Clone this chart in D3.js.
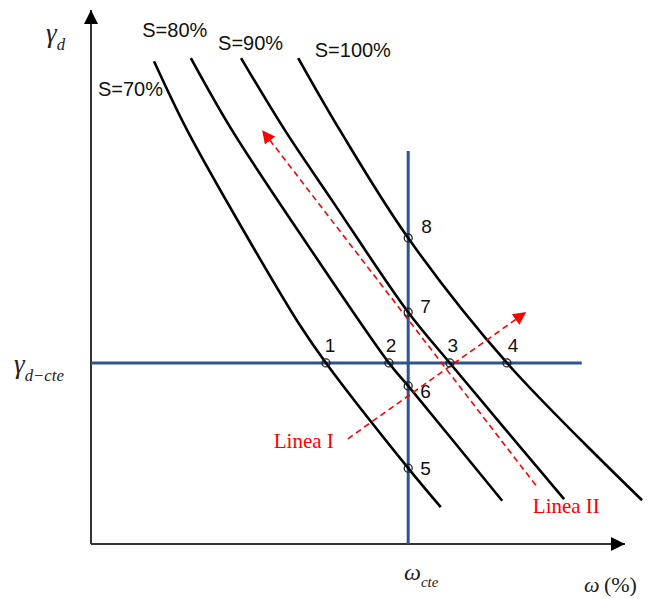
<!DOCTYPE html>
<html>
<head>
<meta charset="utf-8">
<script src="https://cdn.jsdelivr.net/npm/d3@7"></script>
<style>
  body { margin: 0; background: #fff; }
  svg { display: block; }
  .serif { font-family: "Liberation Serif", "DejaVu Serif", serif; }
  .sans { font-family: "Liberation Sans", Arial, sans-serif; }
</style>
</head>
<body>
<div id="chart"></div>
<script>
// curves of equal saturation, [omega, gamma_d] in chart units
const s70 = [[11.8, 90.4], [18.0, 77.5], [28.5, 58.8], [39.1, 41.0], [44.0, 33.9], [59.4, 14.2], [65.5, 6.9]];
const s80 = [[18.7, 91.0], [26.4, 77.5], [39.1, 58.2], [55.8, 33.9], [59.4, 29.6], [77.0, 8.1]];
const s90 = [[28.1, 91.0], [36.3, 77.5], [45.1, 64.4], [59.4, 43.4], [67.2, 33.9], [88.6, 8.4]];
const s100 = [[38.8, 91.0], [46.6, 77.5], [59.4, 57.3], [77.9, 33.9], [103.2, 8.2]];
const curveLabels = ["S=70%", "S=80%", "S=90%", "S=100%"];

// constant values
const omegaCte = 59.4;
const gammaCte = 33.9;

// numbered points: 1-4 on gamma_d = cte, 5-8 on omega = cte
const hPointNames = ["1", "2", "3", "4"];
const hPointOmega = [44.0, 55.8, 67.2, 77.9];
const vPointNames = ["5", "6", "7", "8"];
const vPointGamma = [14.2, 29.6, 43.4, 57.3];

// dashed paths (start -> arrow tip)
const lineaI = [[48.1, 19.7], [81.3, 43.3]];
const lineaII = [[83.3, 11.0], [32.2, 77.3]];

const width = 651, height = 599;
const x0 = 91, y0 = 544;

const x = d3.scaleLinear().domain([0, 100]).range([x0, x0 + 534]);
const y = d3.scaleLinear().domain([0, 100]).range([y0, y0 - 534]);

const svg = d3.select("#chart").append("svg")
    .attr("width", width)
    .attr("height", height);

const defs = svg.append("defs");
defs.append("marker")
    .attr("id", "redHead")
    .attr("viewBox", "0 0 10 10")
    .attr("refX", 9).attr("refY", 5)
    .attr("markerWidth", 13).attr("markerHeight", 13)
    .attr("markerUnits", "userSpaceOnUse")
    .attr("orient", "auto")
  .append("path")
    .attr("d", "M0,0 L10,5 L0,10 Z")
    .attr("fill", "#ff0000");
defs.append("marker")
    .attr("id", "axisHead")
    .attr("viewBox", "0 0 10 10")
    .attr("refX", 10).attr("refY", 5)
    .attr("markerWidth", 14).attr("markerHeight", 14)
    .attr("markerUnits", "userSpaceOnUse")
    .attr("orient", "auto")
  .append("path")
    .attr("d", "M0,0 L10,5 L0,10 Z")
    .attr("fill", "#000");

// axes
svg.append("line")
    .attr("x1", x(0)).attr("y1", y(0))
    .attr("x2", x(0)).attr("y2", y0 - 534)
    .attr("stroke", "#333").attr("stroke-width", 2)
    .attr("marker-end", "url(#axisHead)");
svg.append("line")
    .attr("x1", x(0)).attr("y1", y(0))
    .attr("x2", x(100)).attr("y2", y(0))
    .attr("stroke", "#333").attr("stroke-width", 2)
    .attr("marker-end", "url(#axisHead)");

// constant lines (blue)
const blue = "#2c5591";
svg.append("line")
    .attr("x1", x(0)).attr("y1", y(gammaCte))
    .attr("x2", x(91.9)).attr("y2", y(gammaCte))
    .attr("stroke", blue).attr("stroke-width", 3);
svg.append("line")
    .attr("x1", x(omegaCte)).attr("y1", y(0))
    .attr("x2", x(omegaCte)).attr("y2", y(73.6))
    .attr("stroke", blue).attr("stroke-width", 3);

// saturation curves
const line = d3.line()
    .x(d => x(d[0]))
    .y(d => y(d[1]))
    .curve(d3.curveCatmullRom.alpha(0.5));

svg.selectAll(".sat")
    .data([s70, s80, s90, s100])
    .enter()
    .append("path")
      .attr("class", "sat")
      .attr("d", line)
      .attr("fill", "none")
      .attr("stroke", "#000")
      .attr("stroke-width", 2.6);

// dashed red lines
[lineaI, lineaII].forEach(seg => {
    svg.append("path")
        .attr("d", d3.line().x(d => x(d[0])).y(d => y(d[1]))(seg))
        .attr("fill", "none")
        .attr("stroke", "#ff0000")
        .attr("stroke-width", 1.6)
        .attr("stroke-dasharray", "6,4")
        .attr("marker-end", "url(#redHead)");
});

// points
const pts = hPointNames.map((n, i) => ({ n: n, w: hPointOmega[i], g: gammaCte }))
    .concat(vPointNames.map((n, i) => ({ n: n, w: omegaCte, g: vPointGamma[i] })));

svg.selectAll(".pt")
    .data(pts)
    .enter()
    .append("circle")
      .attr("class", "pt")
      .attr("cx", d => x(d.w))
      .attr("cy", d => y(d.g))
      .attr("r", 4)
      .attr("fill", "none")
      .attr("stroke", "#222")
      .attr("stroke-width", 1.3);

// label offsets (px) for the numbered points
const ptOffset = {
    "1": [4, -11, "middle"], "2": [2, -11, "middle"], "3": [3, -11, "middle"], "4": [6, -11, "middle"],
    "5": [12, 7, "start"], "6": [12, 12, "start"], "7": [12, 1, "start"], "8": [13, -5, "start"]
};
svg.selectAll(".ptlab")
    .data(pts)
    .enter()
    .append("text")
      .attr("class", "sans")
      .attr("x", d => x(d.w) + ptOffset[d.n][0])
      .attr("y", d => y(d.g) + ptOffset[d.n][1])
      .attr("text-anchor", d => ptOffset[d.n][2])
      .attr("font-size", 19)
      .attr("fill", "#111")
      .text(d => d.n);

// curve labels
const curveLabelPos = [[1.3, 83.9], [9.6, 94.9], [23.8, 92.5], [41.9, 91.2]];
svg.selectAll(".clab")
    .data(curveLabels)
    .enter()
    .append("text")
      .attr("class", "sans")
      .attr("x", (d, i) => x(curveLabelPos[i][0]))
      .attr("y", (d, i) => y(curveLabelPos[i][1]))
      .attr("font-size", 20)
      .attr("fill", "#111")
      .text(d => d);

// Linea I / Linea II
svg.append("text")
    .attr("class", "serif")
    .attr("x", x(lineaI[0][0]) - 14).attr("y", y(lineaI[0][1]) + 9)
    .attr("text-anchor", "end")
    .attr("font-size", 21).attr("fill", "#ff0000")
    .text("Linea I");
svg.append("text")
    .attr("class", "serif")
    .attr("x", x(lineaII[0][0]) - 3).attr("y", y(lineaII[0][1]) + 28)
    .attr("font-size", 21).attr("fill", "#ff0000")
    .text("Linea II");

// axis titles
function greek(xp, yp, main, sub, size) {
    const t = svg.append("text")
        .attr("class", "serif")
        .attr("x", xp).attr("y", yp)
        .attr("font-style", "italic")
        .attr("fill", "#222");
    t.append("tspan").attr("font-size", size).text(main);
    t.append("tspan").attr("font-size", size * 0.62).attr("dy", size * 0.28).text(sub);
    return t;
}
greek(46, 42, "\u03b3", "d", 27);
greek(14, 373, "\u03b3", "d\u2212cte", 27);
greek(404, 580, "\u03c9", "cte", 24);

svg.append("text")
    .attr("class", "serif")
    .attr("x", 584).attr("y", 592)
    .attr("fill", "#222")
    .attr("font-size", 22)
    .html('<tspan font-style="italic">\u03c9</tspan><tspan>\u2009(%)</tspan>');
</script>
</body>
</html>
